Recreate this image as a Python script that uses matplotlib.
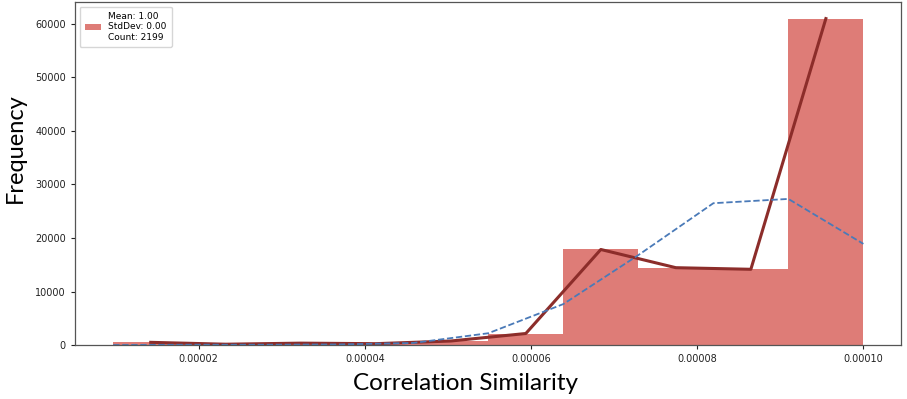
# correlation similarity histogram with frequency polygon and reference curve

import matplotlib
matplotlib.use('Agg')
import matplotlib.pyplot as plt
import numpy as np

# histogram bins (10 equal bins)
bin_lo = 0.0000097
bin_hi = 0.00010
counts = [500, 150, 350, 250, 750, 2150, 17850, 14450, 14150, 61000]

# dashed reference curve, sampled at bin edges
ref_vals = [0, 50, 50, 100, 380, 2200, 7650, 16800, 26500, 27300, 18900]

legend_label = "Mean: 1.00\nStdDev: 0.00\nCount: 2199"

edges = np.linspace(bin_lo, bin_hi, len(counts) + 1)
centers = (edges[:-1] + edges[1:]) / 2
width = edges[1] - edges[0]

fig = plt.figure(figsize=(9.07, 3.99), dpi=100)
ax = fig.add_axes([0.0827, 0.1353, 0.9107, 0.8597])

ax.bar(edges[:-1], counts, width=width, align='edge', color='#d4504a',
       alpha=0.75, linewidth=0, label=legend_label)
ax.plot(centers, counts, color='#8c2d2a', linewidth=2.2)
ax.plot(edges, ref_vals, color='#4a7ab8', linewidth=1.3, linestyle='--',
        dashes=(3.5, 1.5))

ax.set_xlim(0.0000051, 0.00010453)
ax.set_ylim(0, 64100)
ax.set_xticks([0.00002, 0.00004, 0.00006, 0.00008, 0.00010])
ax.set_xticklabels(['0.00002', '0.00004', '0.00006', '0.00008', '0.00010'])
ax.set_yticks([0, 10000, 20000, 30000, 40000, 50000, 60000])
ax.tick_params(labelsize=7, colors='#222222', length=3)

for s in ax.spines.values():
    s.set_color('#555555')
    s.set_linewidth(0.9)

ax.set_xlabel('Correlation Similarity', fontsize=17.5, family='Lato')
ax.set_ylabel('Frequency', fontsize=17, family='Lato')
ax.xaxis.set_label_coords(0.473, -0.082)
ax.yaxis.set_label_coords(-0.06, 0.574)

ax.legend(loc='upper left', fontsize=6.5, handlelength=1.8, borderpad=0.6,
          handletextpad=0.8, labelspacing=0.2)

fig.savefig('out.png', dpi=100)
